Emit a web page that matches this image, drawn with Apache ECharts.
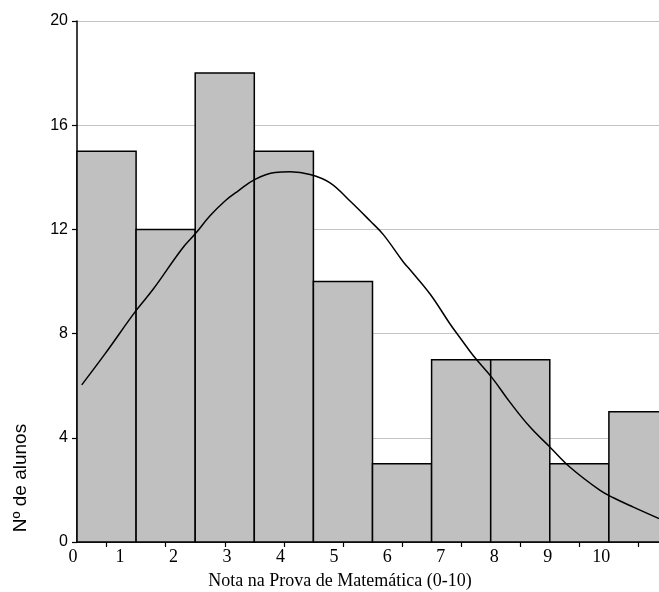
<!DOCTYPE html>
<html>
<head>
<meta charset="utf-8">
<script src="https://cdn.jsdelivr.net/npm/echarts@6/dist/echarts.min.js"></script>
<style>
html,body{margin:0;padding:0;background:#fff;}
#chart{width:659px;height:592px;}
</style>
</head>
<body>
<div id="chart"></div>
<script>
// Histogram bins and counts
const binNames = ['0-1','1-2','2-3','3-4','4-5','5-6','6-7','7-8','8-9','9-10'];
const counts = [15, 12, 18, 15, 10, 3, 7, 7, 3, 5];
// Tick labels on the note scale
const xTickLabels = [0, 1, 2, 3, 4, 5, 6, 7, 8, 9, 10];
const yTickLabels = [0, 4, 8, 12, 16, 20];
// Fitted curve (x on the note scale, y = nº de alunos)
const curveX = [0.283, 0.718, 1.298, 1.622, 2.153, 2.402, 2.683, 2.963, 3.212, 3.525, 3.899, 4.180, 4.554, 4.928, 5.302, 5.676, 5.925, 6.299, 6.425, 6.799, 7.173, 7.360, 7.609, 7.953, 8.296, 8.670, 9.044, 9.418, 9.980, 10.228, 10.602, 11.083];
const curveY = [6.03, 7.22, 8.88, 9.71, 11.24, 11.82, 12.52, 13.09, 13.48, 13.92, 14.18, 14.21, 14.11, 13.79, 13.09, 12.33, 11.80, 10.75, 10.45, 9.52, 8.37, 7.84, 7.15, 6.32, 5.36, 4.41, 3.64, 2.87, 1.98, 1.70, 1.34, 0.90];
const xTitle = 'Nota na Prova de Matemática (0-10)';
const yTitle = 'Nº de alunos';

const chart = echarts.init(document.getElementById('chart'), null, {renderer: 'canvas'});
const serif = '"Liberation Serif", "Times New Roman", serif';
const sans = '"Liberation Sans", Arial, sans-serif';

chart.setOption({
  animation: false,
  backgroundColor: '#ffffff',
  grid: [
    {left: 77, right: -9, top: 21, bottom: 50, containLabel: false, outerBoundsMode: 'none'},
    {left: 66.6, right: -9, top: 21, bottom: 50, containLabel: false, outerBoundsMode: 'none'}
  ],
  xAxis: [
    {
      type: 'category',
      gridIndex: 0,
      data: binNames,
      boundaryGap: true,
      position: 'bottom',
      axisLine: {show: true, lineStyle: {color: '#000', width: 1.5}},
      axisTick: {show: true, alignWithLabel: true, length: 5, lineStyle: {color: '#000', width: 1.2}},
      axisLabel: {show: false},
      splitLine: {show: false}
    },
    {
      type: 'value',
      gridIndex: 1,
      min: 0,
      max: 11.25,
      interval: 1,
      position: 'bottom',
      axisLine: {show: false},
      axisTick: {show: false},
      splitLine: {show: false},
      axisLabel: {
        show: true,
        margin: 6,
        color: '#000',
        fontFamily: serif,
        fontSize: 18,
        formatter: v => (xTickLabels.indexOf(v) < 0 ? '' : (v === 0 ? '{z|0}' : String(v))),
        rich: {z: {fontFamily: serif, fontSize: 18, color: '#000', padding: [0, 0, 0, 13]}}
      }
    }
  ],
  yAxis: [
    {
      type: 'value',
      gridIndex: 0,
      min: 0,
      max: 20,
      interval: 4,
      axisLine: {show: true, lineStyle: {color: '#000', width: 1.5}},
      axisTick: {show: true, length: 5, lineStyle: {color: '#000', width: 1.2}},
      axisLabel: {
        color: '#000', fontFamily: sans, fontSize: 16, margin: 9,
        formatter: v => (yTickLabels.indexOf(v) >= 0 ? String(v) : '')
      },
      splitLine: {show: true, lineStyle: {color: '#c4c4c4', width: 1.2}}
    },
    {
      type: 'value',
      gridIndex: 1,
      min: 0,
      max: 20,
      show: false
    }
  ],
  series: [
    {
      type: 'custom',
      xAxisIndex: 0,
      yAxisIndex: 0,
      data: counts.map((c, i) => [i, c]),
      encode: {x: 0, y: 1},
      silent: true,
      renderItem: function (params, api) {
        const top = api.coord([api.value(0), api.value(1)]);
        const size = api.size([1, api.value(1)]);
        return {
          type: 'rect',
          shape: {x: top[0] - size[0] / 2, y: top[1], width: size[0], height: size[1]},
          style: {fill: '#c0c0c0', stroke: '#000', lineWidth: 1.5}
        };
      }
    },
    {
      type: 'line',
      xAxisIndex: 1,
      yAxisIndex: 1,
      data: curveX.map((x, i) => [x, curveY[i]]),
      smooth: 0.4,
      symbol: 'none',
      lineStyle: {color: '#000', width: 1.5},
      z: 5,
      silent: true
    }
  ],
  graphic: [
    {
      type: 'text',
      x: 340, y: 581,
      style: {
        text: xTitle, fill: '#000',
        font: '18px ' + serif,
        textAlign: 'center', textVerticalAlign: 'middle'
      }
    },
    {
      type: 'text',
      x: 21, y: 478,
      rotation: Math.PI / 2,
      style: {
        text: yTitle, fill: '#000',
        font: '19px ' + sans,
        textAlign: 'center', textVerticalAlign: 'middle'
      }
    }
  ]
});
</script>
</body>
</html>
